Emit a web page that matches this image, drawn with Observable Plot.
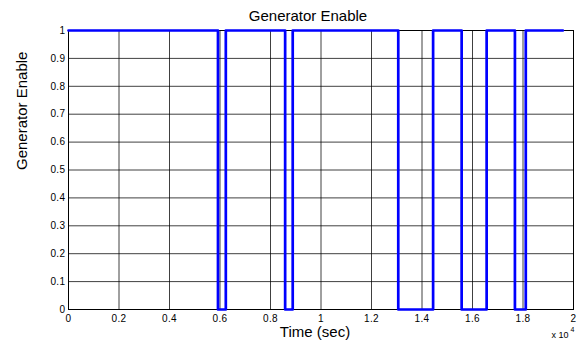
<!DOCTYPE html>
<html>
<head>
<meta charset="utf-8">
<script src="https://cdn.jsdelivr.net/npm/d3@7"></script>
<script src="https://cdn.jsdelivr.net/npm/@observablehq/plot@0.6"></script>
<style>
html,body{margin:0;padding:0;background:#fff;}
svg{font-family:"Liberation Sans",Arial,sans-serif;}
</style>
</head>
<body>
<div id="chart"></div>
<script>
const times = [0, 5920, 6230, 8580, 8880, 13060, 14440, 15570, 16560, 17680, 18110, 19580];
const values = [1, 0, 1, 0, 1, 0, 1, 0, 1, 0, 1, 1];
const xTicks = [0, 2000, 4000, 6000, 8000, 10000, 12000, 14000, 16000, 18000, 20000];
const yTicks = [0, 0.1, 0.2, 0.3, 0.4, 0.5, 0.6, 0.7, 0.8, 0.9, 1];
const titleText = "Generator Enable";
const xLabel = "Time (sec)";
const yLabel = "Generator Enable";
const xExponentBase = "x 10";
const xExponent = "4";

const data = times.map((t, i) => ({t, v: values[i]}));

const chart = Plot.plot({
  width: 581,
  height: 340,
  marginLeft: 68,
  marginRight: 8,
  marginTop: 30,
  marginBottom: 31,
  style: {fontFamily: "'Liberation Sans', Arial, sans-serif", fontSize: "10px", color: "#000", background: "#fff"},
  x: {domain: [0, 20000], ticks: xTicks, tickFormat: d => String(d / 10000), tickSize: 0, tickPadding: 5, label: null},
  y: {domain: [0, 1], ticks: yTicks, tickFormat: d => String(+d.toFixed(1)), tickSize: 0, tickPadding: 3, label: null},
  marks: [
    Plot.gridX(xTicks, {stroke: "#000", strokeOpacity: 0.75, strokeWidth: 1}),
    Plot.gridY(yTicks, {stroke: "#000", strokeOpacity: 0.75, strokeWidth: 1}),
    Plot.frame({stroke: "#000", strokeWidth: 1}),
    Plot.line(data, {x: "t", y: "v", curve: "step-after", stroke: "#0000ff", strokeWidth: 2.7}),
    Plot.text([titleText], {frameAnchor: "top", lineAnchor: "middle", dx: -13, dy: -14, fontSize: 15, text: d => d, fill: "#000", ariaLabel: "big"}),
    Plot.text([xLabel], {frameAnchor: "bottom", lineAnchor: "middle", dx: -6, dy: 23, fontSize: 15, text: d => d, fill: "#000", ariaLabel: "big"}),
    Plot.text([yLabel], {frameAnchor: "left", lineAnchor: "middle", dx: -46, rotate: -90, fontSize: 15, text: d => d, fill: "#000", ariaLabel: "big"}),
    Plot.text([xExponentBase], {frameAnchor: "bottom-right", lineAnchor: "middle", dx: -5, dy: 26, fontSize: 9, text: d => d, textAnchor: "end", fill: "#000"}),
    Plot.text([xExponent], {frameAnchor: "bottom-right", lineAnchor: "middle", dx: 1, dy: 20, fontSize: 7, text: d => d, textAnchor: "end", fill: "#000"})
  ]
});
d3.select(chart).selectAll('g[aria-label="big"] text').attr("letter-spacing", "0.5px");
d3.select(chart).selectAll('g[aria-label="x-axis tick label"] text, g[aria-label="y-axis tick label"] text').attr("letter-spacing", "0.4px");
document.getElementById("chart").appendChild(chart);
</script>
</body>
</html>
